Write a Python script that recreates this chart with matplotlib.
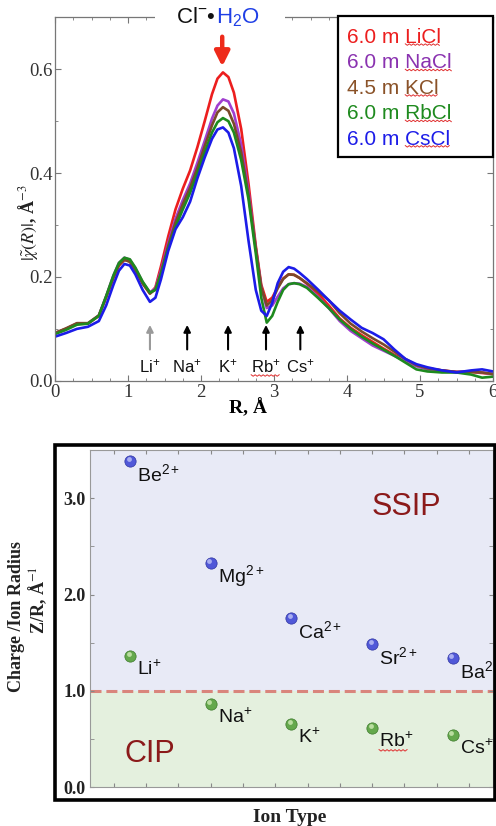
import numpy as np
import matplotlib
matplotlib.use("Agg")
import matplotlib.pyplot as plt
from matplotlib.patches import Rectangle
from matplotlib.lines import Line2D
from matplotlib.transforms import offset_copy, IdentityTransform

plt.rcParams['font.family'] = ['Liberation Sans', 'DejaVu Sans']
plt.rcParams['mathtext.fontset'] = 'custom'
plt.rcParams['mathtext.rm'] = 'Liberation Sans'
plt.rcParams['mathtext.it'] = 'Liberation Sans:italic'
plt.rcParams['mathtext.bf'] = 'Liberation Sans:bold'
SERIF = ['Liberation Serif', 'DejaVu Serif']

# ---- top panel: |chi(R)| for chloride salts ----
r_grid = [0.0, 0.15, 0.3, 0.45, 0.6, 0.7, 0.8, 0.875, 0.95, 1.025, 1.1, 1.2, 1.3, 1.375,
          1.45, 1.55, 1.65, 1.75, 1.85, 1.95, 2.05, 2.15, 2.225, 2.3, 2.375, 2.45, 2.55,
          2.65, 2.75, 2.825, 2.9, 2.975, 3.05, 3.125, 3.2, 3.275, 3.35, 3.45, 3.6, 3.75,
          3.9, 4.05, 4.2, 4.35, 4.5, 4.65, 4.8, 4.95, 5.1, 5.3, 5.5, 5.7, 5.85, 6.0]
chi_licl = [0.092, 0.100, 0.110, 0.110, 0.125, 0.160, 0.198, 0.222, 0.233, 0.230, 0.215,
            0.188, 0.168, 0.180, 0.220, 0.278, 0.330, 0.370, 0.405, 0.450, 0.500, 0.552,
            0.582, 0.594, 0.585, 0.555, 0.485, 0.380, 0.260, 0.185, 0.152, 0.160, 0.180,
            0.197, 0.205, 0.204, 0.198, 0.187, 0.168, 0.145, 0.120, 0.102, 0.088, 0.075,
            0.062, 0.050, 0.040, 0.030, 0.024, 0.020, 0.017, 0.017, 0.015, 0.013]
chi_nacl = [0.092, 0.100, 0.110, 0.110, 0.126, 0.163, 0.203, 0.227, 0.237, 0.233, 0.217,
            0.190, 0.170, 0.178, 0.212, 0.265, 0.312, 0.348, 0.380, 0.420, 0.462, 0.505,
            0.530, 0.542, 0.538, 0.515, 0.455, 0.365, 0.255, 0.180, 0.140, 0.145, 0.162,
            0.178, 0.186, 0.188, 0.187, 0.181, 0.162, 0.140, 0.115, 0.096, 0.082, 0.068,
            0.058, 0.048, 0.038, 0.028, 0.022, 0.019, 0.017, 0.018, 0.016, 0.013]
chi_kcl = [0.092, 0.101, 0.111, 0.111, 0.126, 0.162, 0.200, 0.223, 0.233, 0.229, 0.213,
           0.187, 0.168, 0.176, 0.208, 0.260, 0.305, 0.340, 0.372, 0.410, 0.452, 0.492,
           0.517, 0.527, 0.520, 0.495, 0.440, 0.358, 0.255, 0.180, 0.145, 0.155, 0.178,
           0.196, 0.205, 0.204, 0.198, 0.188, 0.172, 0.155, 0.130, 0.110, 0.095, 0.082,
           0.070, 0.056, 0.042, 0.030, 0.024, 0.020, 0.017, 0.017, 0.016, 0.013]
chi_rbcl = [0.090, 0.098, 0.108, 0.110, 0.125, 0.163, 0.203, 0.227, 0.237, 0.234, 0.218,
            0.191, 0.170, 0.175, 0.205, 0.255, 0.296, 0.330, 0.362, 0.400, 0.440, 0.478,
            0.498, 0.506, 0.500, 0.478, 0.425, 0.350, 0.245, 0.160, 0.112, 0.125, 0.152,
            0.175, 0.186, 0.188, 0.186, 0.179, 0.160, 0.140, 0.118, 0.100, 0.085, 0.072,
            0.060, 0.048, 0.035, 0.022, 0.018, 0.016, 0.016, 0.012, 0.006, 0.008]
chi_cscl = [0.085, 0.092, 0.100, 0.104, 0.115, 0.145, 0.185, 0.212, 0.225, 0.222, 0.205,
            0.175, 0.152, 0.160, 0.195, 0.250, 0.292, 0.315, 0.345, 0.390, 0.430, 0.466,
            0.484, 0.488, 0.478, 0.448, 0.375, 0.270, 0.175, 0.135, 0.125, 0.150, 0.188,
            0.210, 0.219, 0.216, 0.208, 0.196, 0.176, 0.155, 0.135, 0.118, 0.102, 0.092,
            0.080, 0.060, 0.042, 0.032, 0.026, 0.020, 0.016, 0.020, 0.022, 0.018]

salt_conc = ['6.0 m ', '6.0 m ', '4.5 m ', '6.0 m ', '6.0 m ']
salt_names = ['LiCl', 'NaCl', 'KCl', 'RbCl', 'CsCl']
salt_colors = ['#ec1e1e', '#a03ed0', '#7a4a2a', '#1e8a1e', '#1c1ce8']
legend_colors = ['#ec1e1e', '#8a32b0', '#8a5228', '#1e8a1e', '#1c1ce8']
salt_chi = [chi_licl, chi_nacl, chi_kcl, chi_rbcl, chi_cscl]

cation_labels = ['Li$^{+}$', 'Na$^{+}$', 'K$^{+}$', 'Rb$^{+}$', 'Cs$^{+}$']
cation_r = [1.30, 1.81, 2.37, 2.89, 3.36]
cation_arrow_colors = ['#9a9a9a', 'k', 'k', 'k', 'k']
water_peak_r = 2.29

# ---- bottom panel: charge / ion radius ----
ion_pos = [1, 2, 3, 4, 5]
divalent_labels = ['Be$^{2+}$', 'Mg$^{2+}$', 'Ca$^{2+}$', 'Sr$^{2+}$', 'Ba$^{2+}$']
divalent_zr = [3.385, 2.33, 1.76, 1.49, 1.34]
monovalent_labels = ['Li$^{+}$', 'Na$^{+}$', 'K$^{+}$', 'Rb$^{+}$', 'Cs$^{+}$']
monovalent_zr = [1.365, 0.865, 0.655, 0.615, 0.54]
cip_threshold = 1.0

fig = plt.figure(figsize=(4.96, 8.26), dpi=100)

ax1 = fig.add_axes([0.111, 0.539, 0.883, 0.440])
for vals, col in zip(salt_chi, salt_colors):
    ax1.plot(r_grid, vals, color=col, lw=1.9, solid_joinstyle='round')

ax1.set_xlim(0, 6)
ax1.set_ylim(0, 0.70)
ax1.set_xticks(range(7))
ax1.set_xticks(np.arange(0, 6.01, 0.25), minor=True)
ax1.set_yticks([0.0, 0.2, 0.4, 0.6])
ax1.set_yticklabels(['0.0', '0.2', '0.4', '0.6'])
ax1.set_yticks(np.arange(0, 0.701, 0.1), minor=True)
ax1.tick_params(which='both', direction='in', top=True, right=True, color='#777',
                labelsize=13.5, labelcolor='#333', pad=2)
ax1.tick_params(which='major', length=4)
ax1.tick_params(which='minor', length=2.5)
for lab in ax1.get_xticklabels() + ax1.get_yticklabels():
    lab.set_fontfamily(SERIF)
for sp in ax1.spines.values():
    sp.set_color('#777')
    sp.set_linewidth(0.9)

ax1.set_xlabel('R, Å', fontfamily=SERIF, fontweight='bold', fontsize=14, labelpad=0)
ax1.xaxis.set_label_coords(0.44, -0.05)
fig.text(0.056, 0.731, r'$|\tilde{\chi}(R)|$, Å$^{-3}$', rotation=90, ha='center',
         va='center', fontfamily=SERIF, fontweight='bold', fontsize=13,
         math_fontfamily='stix', color='#222')

# title-like annotation over the water peak; a white strip hides the frame behind it
ax1.add_patch(Rectangle((1.37, 0.68), 1.78, 0.04, fc='white', ec='none', zorder=4,
                        clip_on=False))
ax1.text(2.2, 0.70, 'Cl$^{-}$•', ha='right', va='center', fontsize=16, color='#111',
         clip_on=False, zorder=5)
ax1.text(2.2, 0.70, 'H$_{2}$O', ha='left', va='center', fontsize=16, color='#1f3fe6',
         clip_on=False, zorder=5)
ax1.annotate('', xy=(water_peak_r, 0.600), xytext=(water_peak_r, 0.668),
             arrowprops=dict(arrowstyle='-|>', color='#ee2a1a', lw=3.2, mutation_scale=22),
             zorder=6, annotation_clip=False)

# cation markers
cation_texts = []
for lab, r, c in zip(cation_labels, cation_r, cation_arrow_colors):
    ax1.annotate('', xy=(r, 0.113), xytext=(r, 0.055),
                 arrowprops=dict(arrowstyle='-|>', color=c, lw=1.5, mutation_scale=10))
    cation_texts.append(ax1.text(r, 0.027, lab, ha='center', va='center', fontsize=12,
                                 color='#111'))

# legend box (text-only, as in the figure)
ax1.add_patch(Rectangle((0.646, 0.615), 0.354, 0.388, transform=ax1.transAxes, fc='white',
                        ec='black', lw=1.6, zorder=7, clip_on=False))
legend_words = []
for i, (conc, name, col) in enumerate(zip(salt_conc, salt_names, legend_colors)):
    y = 0.945 - i * 0.0700
    t = ax1.text(0.667, y, conc + name, transform=ax1.transAxes, ha='left', va='center',
                 fontsize=15, color=col, zorder=8)
    legend_words.append((t, name))

# ---- bottom panel ----
ax2 = fig.add_axes([0.181, 0.047, 0.813, 0.408])
ax2.set_xlim(0.5, 5.5)
ax2.set_ylim(0, 3.5)
ax2.axhspan(cip_threshold, 3.5, color='#e8eaf6', lw=0, zorder=0)
ax2.axhspan(0, cip_threshold, color='#e4f0de', lw=0, zorder=0)
ax2.axhline(cip_threshold, color='#d9857c', lw=2.2, ls=(0, (3.6, 1.6)), zorder=1)

for labels, vals, base, light, dark in [
        (divalent_labels, divalent_zr, '#5058d8', '#b4b8f4', '#2f35a0'),
        (monovalent_labels, monovalent_zr, '#64a84c', '#c4e4aa', '#3d7a2c')]:
    ax2.scatter(ion_pos, vals, s=66, c=base, edgecolors=dark, linewidths=0.5, zorder=3)
    ax2.scatter(ion_pos, vals, s=12, c=light, linewidths=0, alpha=0.9, zorder=4,
                transform=offset_copy(ax2.transData, fig, x=-1.5, y=1.8, units='dots'))
    for x, v, lab in zip(ion_pos, vals, labels):
        ax2.annotate(lab, (x, v), xytext=(7, -13), textcoords='offset pixels', ha='left',
                     va='center', fontsize=14, color='#111', annotation_clip=False)

ax2.text(4.42, 2.91, 'SSIP', ha='center', va='center', fontsize=22, color='#8b1a1a')
ax2.text(1.25, 0.34, 'CIP', ha='center', va='center', fontsize=22, color='#8b1a1a')

ax2.set_xticks(np.arange(0.8, 5.5, 0.4))
ax2.set_xticklabels([])
ax2.set_yticks([0, 1, 2, 3])
ax2.set_yticklabels(['0.0', '1.0', '2.0', '3.0'])
ax2.set_yticks(np.arange(0, 3.51, 0.5), minor=True)
ax2.tick_params(which='both', direction='in', top=True, right=True, color='#888',
                labelsize=13, labelcolor='#222', pad=3)
ax2.tick_params(which='major', length=3)
ax2.tick_params(which='minor', length=3)
for lab in ax2.get_yticklabels():
    lab.set_fontfamily(SERIF)
    lab.set_fontweight('bold')
for sp in ax2.spines.values():
    sp.set_color('#999')
    sp.set_linewidth(0.8)

fig.add_artist(Rectangle((0.111, 0.0315), 0.887, 0.4295, transform=fig.transFigure,
                         fill=False, ec='black', lw=2.6))
fig.text(0.034, 0.254, 'Charge /Ion Radius', rotation=90, ha='center', va='center',
         fontfamily=SERIF, fontweight='bold', fontsize=13, color='#222')
fig.text(0.077, 0.274, 'Z/R, Å$^{-1}$', rotation=90, ha='center', va='center',
         fontfamily=SERIF, fontweight='bold', fontsize=13, math_fontfamily='stix',
         color='#222')
fig.text(0.585, 0.0097, 'Ion Type', ha='center', va='center', fontfamily=SERIF,
         fontweight='bold', fontsize=14, color='#222')

# spell-check squiggles seen under the salt names and Rb labels
fig.canvas.draw()
renderer = fig.canvas.get_renderer()


def squiggle(x0, x1, y):
    xs = np.arange(x0, x1, 2.0)
    ys = y - 1.5 * (np.arange(len(xs)) % 2)
    fig.add_artist(Line2D(xs, ys, transform=IdentityTransform(), color='#e03030', lw=0.7,
                          zorder=10))


for t, name in legend_words:
    bb = t.get_window_extent(renderer)
    probe = ax1.text(0, 0, name, fontsize=15)
    w = probe.get_window_extent(renderer).width
    probe.remove()
    squiggle(bb.x1 - w, bb.x1, bb.y0 + 3)

bb = cation_texts[3].get_window_extent(renderer)
squiggle(bb.x0, bb.x1, bb.y0 + 1)
for child in ax2.texts:
    if child.get_text() == 'Rb$^{+}$':
        bb = child.get_window_extent(renderer)
        squiggle(bb.x0, bb.x1 - 6, bb.y0 + 1)

fig.savefig('out.png', dpi=100)
